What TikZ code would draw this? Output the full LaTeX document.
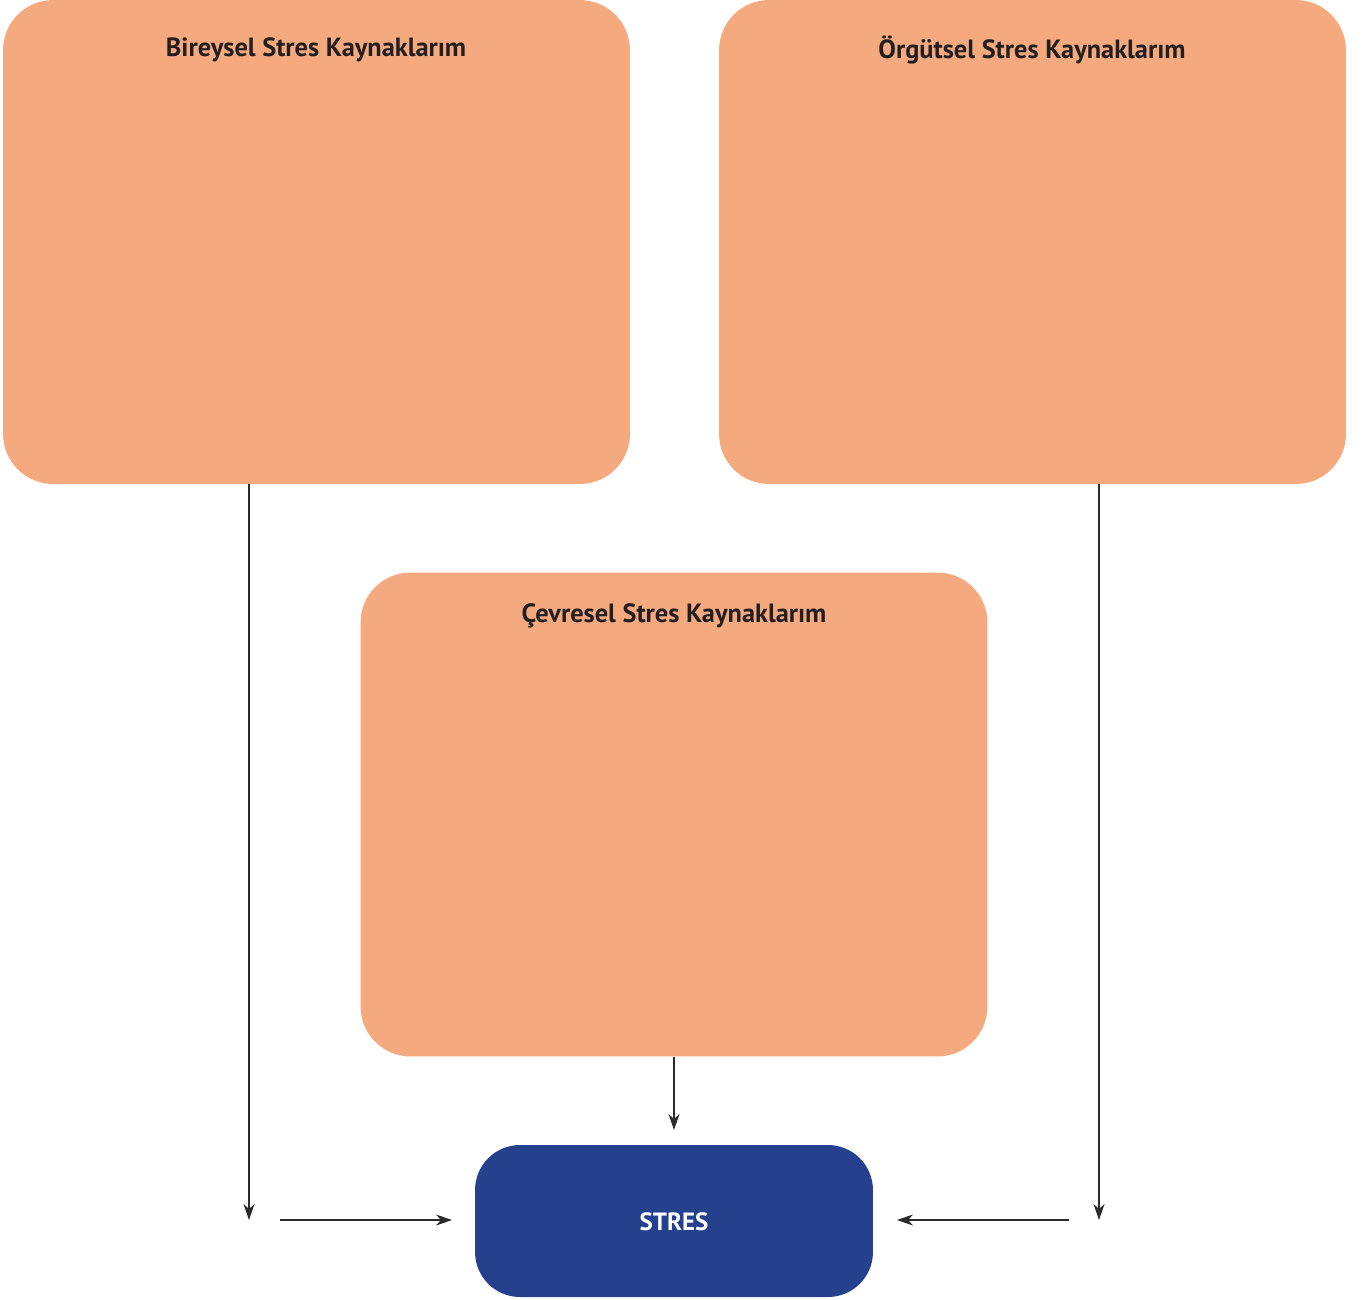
\documentclass[tikz,border=0pt]{standalone}
\usepackage{fontspec}
\setmainfont{PT Sans}
\usetikzlibrary{arrows.meta}
\definecolor{peach}{HTML}{F4A97F}
\definecolor{navy}{HTML}{25418E}
\definecolor{arrowgray}{HTML}{2B2B2B}
\definecolor{titletext}{HTML}{231F20}
\begin{document}
\begin{tikzpicture}[x=0.02cm,y=-0.02cm,
  srcbox/.style={fill=peach, draw=none, rounded corners=1cm, inner sep=0pt,
    minimum width=12.54cm, minimum height=9.68cm},
  stresbox/.style={fill=navy, draw=none, rounded corners=0.9cm, inner sep=0pt,
    minimum width=7.96cm, minimum height=3.04cm},
  title/.style={font=\bfseries\fontsize{15}{18}\selectfont, text=titletext, inner sep=0pt},
  conn/.style={draw=arrowgray, line width=0.7pt,
    -{Stealth[length=0.32cm, width=0.22cm, inset=0.1cm]}}
  ]
\useasboundingbox (0,0) rectangle (1363,1299);
% boxes
\node[srcbox] (b1) at (316.5,242) {};
\node[srcbox] (b2) at (1032.5,242) {};
\node[srcbox] (b3) at (674,814.5) {};
\node[stresbox] (s) at (674,1221) {};
% titles
\node[title] (t1) at (316,50) {Bireysel Stres Kaynaklarım};
\node[title] (t2) at (1032,50) {Örgütsel Stres Kaynaklarım};
\node[title] (t3) at (674,616) {Çevresel Stres Kaynaklarım};
\node[font=\bfseries\fontsize{14.2}{17}\selectfont, text=white, inner sep=0pt] (st) at (674,1222) {STRES};
% free ends
\coordinate (l1) at (249,484);
\coordinate (l2) at (249,1220);
\coordinate (l3) at (280,1220);
\coordinate (l4) at (452,1220);
\coordinate (r1) at (1099,484);
\coordinate (r2) at (1099,1220);
\coordinate (r3) at (1069,1220);
\coordinate (r4) at (897,1220);
\coordinate (m1) at (674,1130);
% connectors
\draw[conn] (l1) -- (l2);
\draw[conn] (l3) -- (l4);
\draw[conn] (r1) -- (r2);
\draw[conn] (r3) -- (r4);
\draw[conn] (b3.south) -- (m1);
\end{tikzpicture}
\end{document}
